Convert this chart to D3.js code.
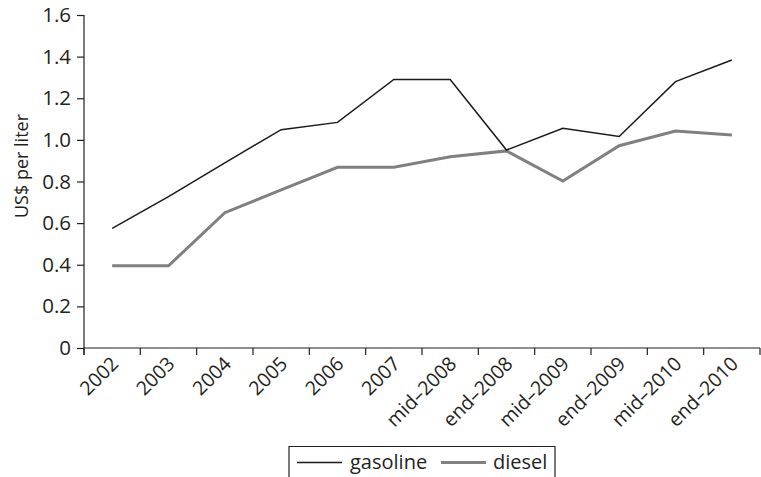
<!DOCTYPE html>
<html>
<head>
<meta charset="utf-8">
<script src="https://cdn.jsdelivr.net/npm/d3@7"></script>
<style>
  html, body { margin: 0; padding: 0; background: #fff; }
  svg { display: block; font-family: "Open Sans", "Noto Sans", sans-serif; }
</style>
</head>
<body>
<svg id="chart" width="761" height="477"></svg>
<script>
const categories = ["2002","2003","2004","2005","2006","2007","mid\u20132008","end\u20132008","mid\u20132009","end\u20132009","mid\u20132010","end\u20132010"];
const gasoline = [0.575, 0.727, 0.89, 1.049, 1.084, 1.29, 1.29, 0.951, 1.056, 1.016, 1.28, 1.384];
const diesel   = [0.395, 0.395, 0.65, 0.76, 0.868, 0.868, 0.919, 0.947, 0.802, 0.972, 1.043, 1.024];
const yTicks = [0, 0.2, 0.4, 0.6, 0.8, 1.0, 1.2, 1.4, 1.6];
const seriesNames = ["gasoline", "diesel"];

(function () {
const svg = d3.select("#chart");
const mLeft = 84, mRight = 760, mTop = 15, mBottom = 348;

const x = d3.scaleBand().domain(categories).range([mLeft, mRight]).padding(0);
const y = d3.scaleLinear().domain([0, 1.6]).range([mBottom, mTop]);

const textColor = "#231f20";
const fontSize = 20.5;

// Y axis
const yAxis = svg.append("g").attr("transform", `translate(${mLeft},0)`)
  .call(d3.axisLeft(y).tickValues(yTicks).tickSize(7).tickPadding(6)
    .tickFormat(d => d === 0 ? "0" : d3.format(".1f")(d)));
yAxis.select(".domain").attr("d", `M0,${mTop}V${mBottom + 7}`);
yAxis.selectAll("line, path").attr("stroke", textColor).attr("stroke-width", 1.2);
yAxis.selectAll("text").attr("font-size", fontSize).attr("fill", textColor)
  .attr("font-family", "'Open Sans', sans-serif");

// X axis
const xAxis = svg.append("g").attr("transform", `translate(0,${mBottom})`);
xAxis.append("line").attr("x1", mLeft).attr("x2", mRight).attr("y1", 0).attr("y2", 0)
  .attr("stroke", textColor).attr("stroke-width", 1.2);
const tickPos = categories.map(c => x(c)).concat([x(categories[categories.length - 1]) + x.bandwidth()]);
xAxis.selectAll("line.tick").data(tickPos).enter().append("line")
  .attr("class", "tick")
  .attr("x1", d => d).attr("x2", d => d).attr("y1", 0).attr("y2", 7)
  .attr("stroke", textColor).attr("stroke-width", 1.2);
xAxis.selectAll("text").data(categories).enter().append("text")
  .attr("transform", d => `translate(${x(d) + x.bandwidth() / 2 + 7.5},${17}) rotate(-45)`)
  .attr("text-anchor", "end")
  .attr("font-size", 19.5).attr("fill", textColor)
  .text(d => d);

// Y label
svg.append("text")
  .attr("transform", `translate(28,166) rotate(-90)`)
  .attr("text-anchor", "middle")
  .attr("font-size", 18).attr("fill", textColor)
  .text("US$ per liter");

// Lines
const line = d3.line().x((d, i) => x(categories[i]) + x.bandwidth() / 2).y(d => y(d));
svg.append("path").datum(diesel).attr("d", line)
  .attr("fill", "none").attr("stroke", "#808080").attr("stroke-width", 3)
  .attr("stroke-linejoin", "miter");
svg.append("path").datum(gasoline).attr("d", line)
  .attr("fill", "none").attr("stroke", "#1a1a1a").attr("stroke-width", 1.5)
  .attr("stroke-linejoin", "miter");

// Legend
const lg = svg.append("g");
lg.append("path").attr("d", "M289,480V446.5H555V480")
  .attr("fill", "none").attr("stroke", textColor).attr("stroke-width", 1.2);
const legendItems = [
  { name: seriesNames[0], color: "#1a1a1a", w: 1.5, x0: 297, tx: 350 },
  { name: seriesNames[1], color: "#808080", w: 3, x0: 441, tx: 493 }
];
legendItems.forEach(it => {
  lg.append("line").attr("x1", it.x0).attr("x2", it.x0 + 45).attr("y1", 462.5).attr("y2", 462.5)
    .attr("stroke", it.color).attr("stroke-width", it.w);
  lg.append("text").attr("x", it.tx).attr("y", 469)
    .attr("font-size", 20).attr("fill", textColor).text(it.name);
});
})();
</script>
</body>
</html>
